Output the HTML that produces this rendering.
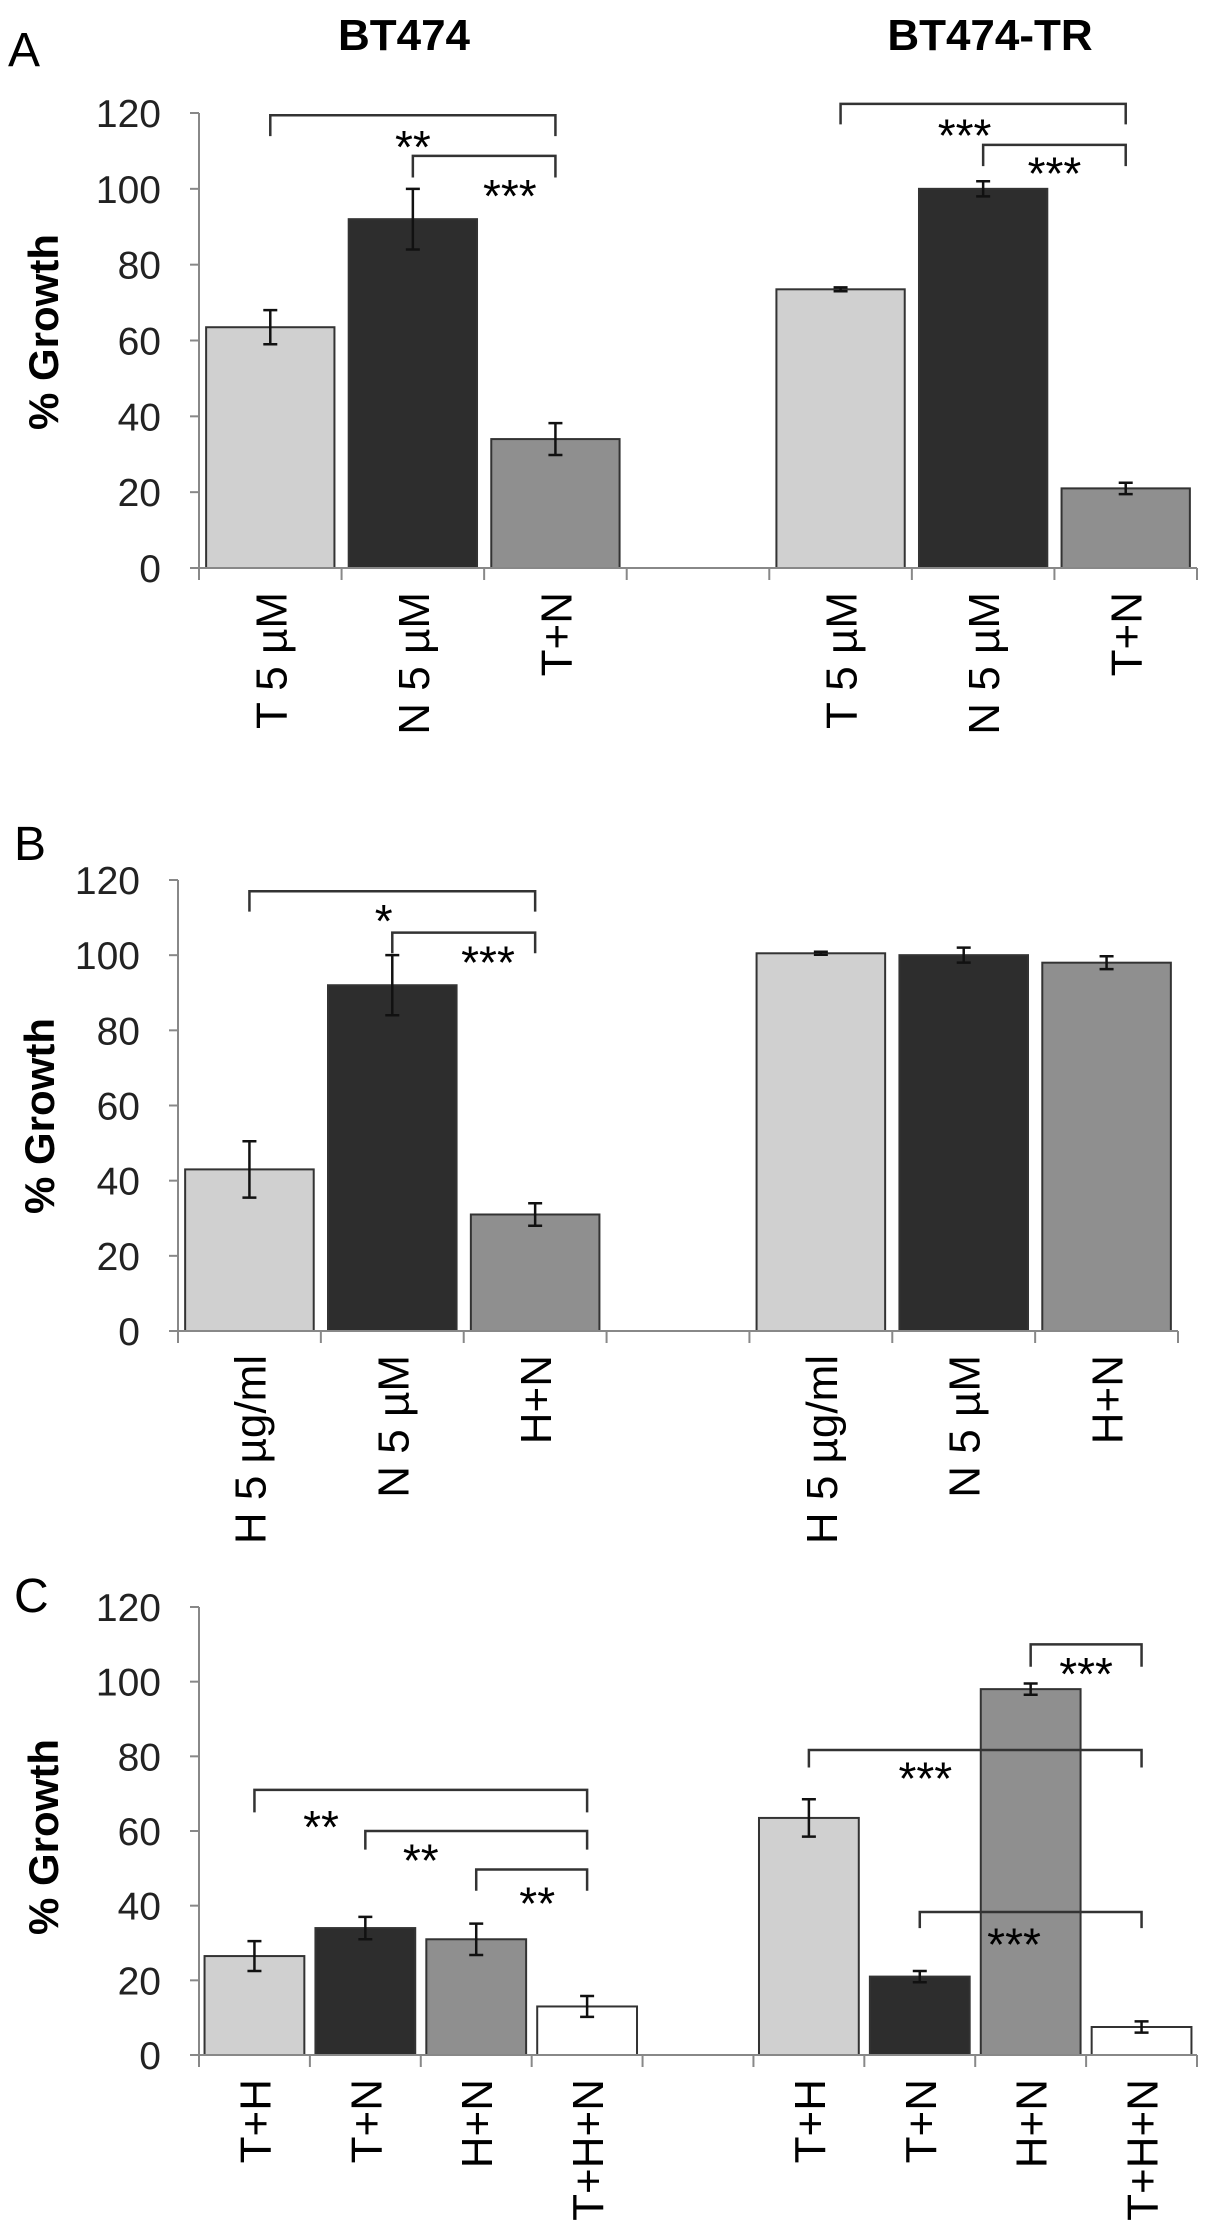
<!DOCTYPE html>
<html><head><meta charset="utf-8"><style>
html,body{margin:0;padding:0;background:#fff;}
svg{display:block;}
</style></head><body>
<svg id="fig" width="1205" height="2230" viewBox="0 0 1205 2230" xmlns="http://www.w3.org/2000/svg" font-family="Liberation Sans, Arial, sans-serif">
<text x="8" y="66" font-size="48">A</text>
<text x="14" y="860" font-size="48">B</text>
<text x="14" y="1612" font-size="48">C</text>
<text x="404" y="50" font-size="44" font-weight="bold" text-anchor="middle">BT474</text>
<text x="990" y="50" font-size="44" font-weight="bold" text-anchor="middle">BT474-TR</text>
</svg>
<script>
// Panel A
const catsA = ["T 5 µM","N 5 µM","T+N","","T 5 µM","N 5 µM","T+N"];
const valsA = [63.5,92,34,null,73.5,100,21];
const errA = [4.5,8,4.2,null,0.5,2,1.5];
const colorIdxA = [0,1,2,null,0,1,2];
// Panel B
const catsB = ["H 5 µg/ml","N 5 µM","H+N","","H 5 µg/ml","N 5 µM","H+N"];
const valsB = [43,92,31,null,100.5,100,98];
const errB = [7.5,8,3,null,0.4,2,1.7];
const colorIdxB = [0,1,2,null,0,1,2];
// Panel C
const catsC = ["T+H","T+N","H+N","T+H+N","","T+H","T+N","H+N","T+H+N"];
const valsC = [26.5,34,31,13,null,63.5,21,98,7.5];
const errC = [4,3,4.2,2.8,null,5,1.5,1.5,1.5];
const colorIdxC = [0,1,2,3,null,0,1,2,3];
const yTicks = [0,20,40,60,80,100,120];
// significance brackets: [fromIndex, toIndex, levelValue, dropValue, stars, starIndexPos, starValue]
const sigA = [[0,2,119.4,113.9,"**",1,110],[1,2,108.7,103,"***",1.68,97],[4,6,122.4,117,"***",4.87,113],[5,6,111.6,106,"***",5.5,103]];
const sigB = [[0,2,117,111.6,"*",0.94,108],[1,2,106,100.5,"***",1.67,97]];
const sigC = [[0,3,71,65,"**",0.6,60],[1,3,60,55,"**",1.5,51],[2,3,49.7,44,"**",2.55,39.5],[7,8,110,104,"***",7.5,101],[5,8,81.7,77,"***",6.05,73],[6,8,38.3,34,"***",6.85,28.5]];

const fills = ["#d0d0d0","#2d2d2d","#8f8f8f","#ffffff"];
const NS = "http://www.w3.org/2000/svg";
const svg = document.getElementById("fig");
function mk(tag, attrs, parent){const e=document.createElementNS(NS,tag);for(const k in attrs)e.setAttribute(k,attrs[k]);(parent||svg).appendChild(e);return e;}

function panel(p){
  const g = mk("g",{});
  
  
  const n = p.cats.length;
  const slot = (p.x1 - p.x0)/n;
  const y = v => p.y0 - (p.y0 - p.y120) * v/120;
  const cx = i => p.x0 + slot*(i+0.5);
  const ax = mk("line",{x1:p.x0,y1:p.y120,x2:p.x0,y2:p.y0,stroke:"#888","stroke-width":2},g);
  
  
  yTicks.forEach(t=>{
    mk("line",{x1:p.x0-9,y1:y(t),x2:p.x0,y2:y(t),stroke:"#888","stroke-width":2},g);
    const tl = mk("text",{x:p.x0-38,y:y(t)+14,"font-size":39,"text-anchor":"end",fill:"#222"},g);
    tl.textContent = t;
    
    
  });
  const yl = mk("text",{x:0,y:0,"font-size":42,"font-weight":"bold","text-anchor":"middle",transform:`translate(${p.ylx},${p.yly}) rotate(-90)`},g);
  yl.textContent = "% Growth";
  
  
  p.vals.forEach((v,i)=>{
    if(v===null) return;
    const bw = slot*0.9;
    const r = mk("rect",{x:cx(i)-bw/2,y:y(v),width:bw,height:p.y0-y(v),fill:fills[p.cidx[i]],stroke:"#333","stroke-width":2},g);
    
    
    const e = p.err[i];
    const eb = mk("path",{d:`M${cx(i)} ${y(v+e)}V${y(v-e)}M${cx(i)-7} ${y(v+e)}H${cx(i)+7}M${cx(i)-7} ${y(v-e)}H${cx(i)+7}`,stroke:"#111","stroke-width":2.5,fill:"none"},g);
    
    
  });
  const xa = mk("line",{x1:p.x0,y1:p.y0,x2:p.x1,y2:p.y0,stroke:"#888","stroke-width":2},g);
  
  
  for(let i=0;i<=n;i++) mk("line",{x1:p.x0+slot*i,y1:p.y0,x2:p.x0+slot*i,y2:p.y0+12,stroke:"#888","stroke-width":2},g);
  p.cats.forEach((c,i)=>{
    if(!c) return;
    const t = mk("text",{x:0,y:0,"font-size":44,"text-anchor":"end",transform:`translate(${cx(i)+16},${p.y0+24}) rotate(-90)`},g);
    t.textContent = c;
    
    
  });
  p.sig.forEach(s=>{
    const [a,b,lv,dv,st,sx,sv] = s;
    const br = mk("path",{d:`M${cx(a)} ${y(dv)}V${y(lv)}H${cx(b)}V${y(dv)}`,stroke:"#333","stroke-width":2.5,fill:"none"},g);
    
    
    const tx = mk("text",{x:cx(sx),y:y(sv)+12,"font-size":46,"text-anchor":"middle"},g);
    tx.textContent = st;
    
    
  });
}
panel({name:"panel-a",cats:catsA,vals:valsA,err:errA,cidx:colorIdxA,sig:sigA,x0:199,x1:1197,y0:568,y120:113,ylx:58,yly:332});
panel({name:"panel-b",cats:catsB,vals:valsB,err:errB,cidx:colorIdxB,sig:sigB,x0:178,x1:1178,y0:1331,y120:880,ylx:54,yly:1116});
panel({name:"panel-c",cats:catsC,vals:valsC,err:errC,cidx:colorIdxC,sig:sigC,x0:199,x1:1197,y0:2055,y120:1607,ylx:58,yly:1837});
</script>
</body></html>
